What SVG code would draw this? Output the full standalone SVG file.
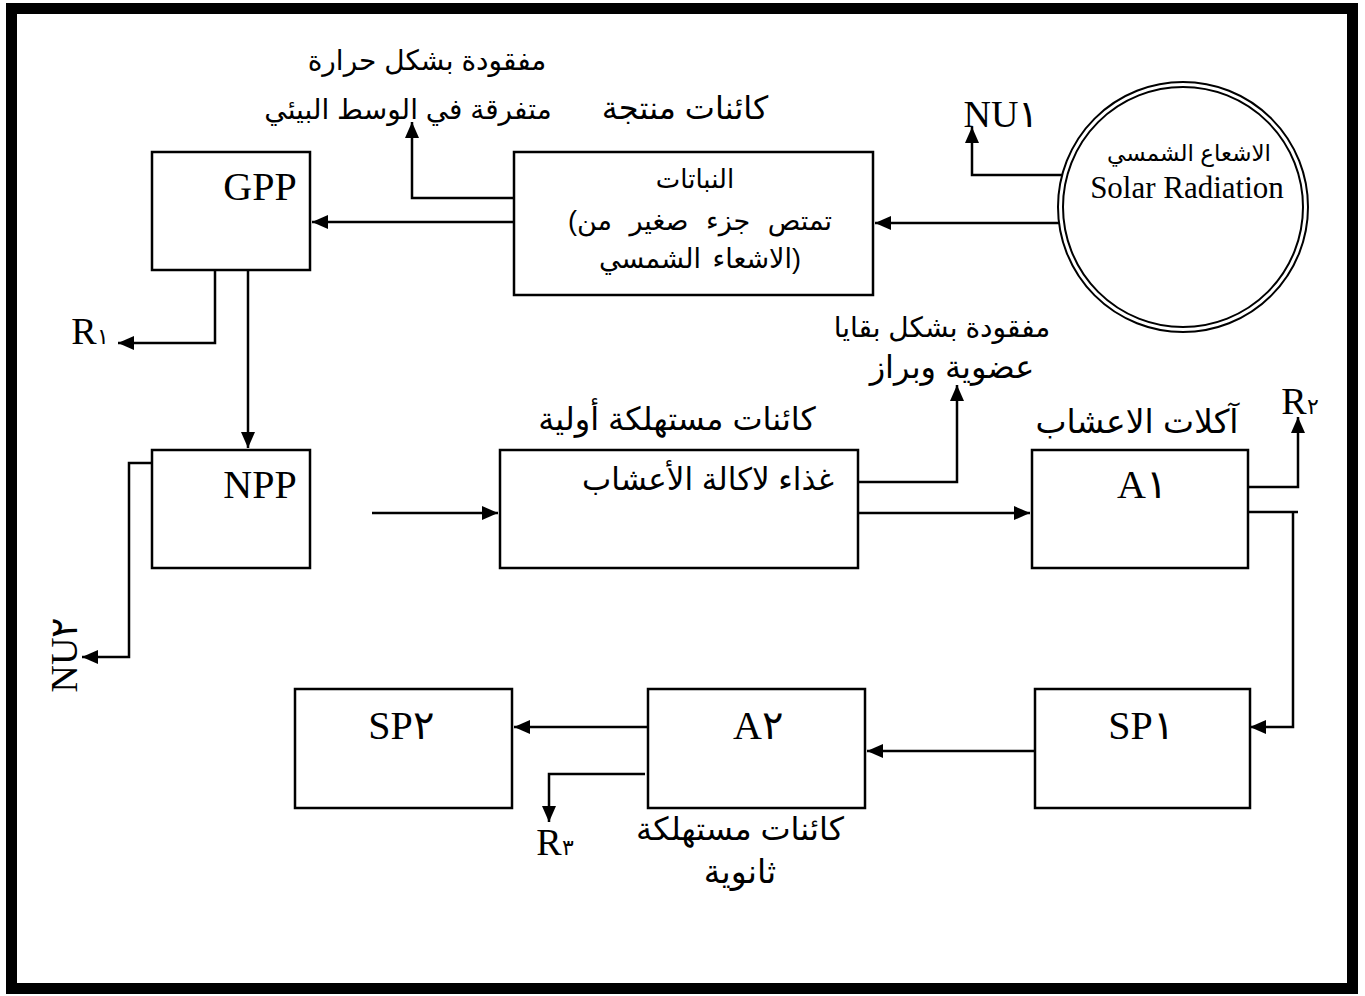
<svg xmlns="http://www.w3.org/2000/svg" width="1365" height="996" viewBox="0 0 1365 996">
<style>
.box{fill:#fff;stroke:#000;stroke-width:2.5}
.ln{fill:none;stroke:#000;stroke-width:2.5}
.ar{font-family:"Liberation Sans","DejaVu Sans",sans-serif;font-size:28px;fill:#000;text-anchor:middle}
.lat{font-family:"Liberation Serif","DejaVu Serif",serif;font-size:40px;fill:#000;text-anchor:middle}
</style>
<defs>
<marker id="ah" markerUnits="userSpaceOnUse" markerWidth="16" markerHeight="14" refX="16" refY="7" orient="auto">
<path d="M0,0 L16,7 L0,14 z" fill="#000"/>
</marker>
</defs>
<rect x="0" y="0" width="1365" height="996" fill="#fff"/>
<rect x="11.5" y="8.5" width="1341" height="980" fill="none" stroke="#000" stroke-width="11"/>

<g id="connectors">
<path class="ln" d="M1062,223 H875" marker-end="url(#ah)"/>
<path class="ln" d="M514,222 H312" marker-end="url(#ah)"/>
<path class="ln" d="M514,198 H412 V122" marker-end="url(#ah)"/>
<path class="ln" d="M1070,175 H972 V127" marker-end="url(#ah)"/>
<path class="ln" d="M215,270 V343 H118" marker-end="url(#ah)"/>
<path class="ln" d="M248,270 V448" marker-end="url(#ah)"/>
<path class="ln" d="M152,463 H129 V657 H82" marker-end="url(#ah)"/>
<path class="ln" d="M372,513 H498" marker-end="url(#ah)"/>
<path class="ln" d="M858,513 H1030" marker-end="url(#ah)"/>
<path class="ln" d="M858,482 H957 V385" marker-end="url(#ah)"/>
<path class="ln" d="M1248,487 H1298 V417" marker-end="url(#ah)"/>
<path class="ln" d="M1248,512 H1298 M1293,512 V727 H1250" marker-end="url(#ah)"/>
<path class="ln" d="M1035,751 H867" marker-end="url(#ah)"/>
<path class="ln" d="M652,727 H514" marker-end="url(#ah)"/>
<path class="ln" d="M645,774 H549 V822" marker-end="url(#ah)"/>
</g>

<g id="solar">
<circle cx="1183" cy="207" r="125" fill="#fff" stroke="#000" stroke-width="2"/>
<circle cx="1183" cy="207" r="120" fill="none" stroke="#000" stroke-width="2"/>
<text class="ar" x="1189" y="161" style="font-size:23px">الاشعاع الشمسي</text>
<text class="lat" x="1187" y="198" style="font-size:31px">Solar Radiation</text>
</g>

<g id="plants">
<rect class="box" x="514" y="152" width="359" height="143"/>
<text class="ar" x="695" y="188" style="font-size:26px">النباتات</text>
<text class="ar" x="700" y="230" style="font-size:27px;word-spacing:10px">(تمتص جزء صغير من</text>
<text class="ar" x="700" y="268" style="font-size:27px;word-spacing:4px">الاشعاء الشمسي)</text>
</g>

<g id="gpp">
<rect class="box" x="152" y="152" width="158" height="118"/>
<text class="lat" x="260" y="200">GPP</text>
</g>

<g id="npp">
<rect class="box" x="152" y="450" width="158" height="118"/>
<text class="lat" x="260" y="498">NPP</text>
</g>

<g id="food">
<rect class="box" x="500" y="450" width="358" height="118"/>
<text class="ar" x="708" y="490" style="font-size:31px">غذاء لاكالة الأعشاب</text>
</g>

<g id="a1">
<rect class="box" x="1032" y="450" width="216" height="118"/>
<text class="lat" x="1142" y="498">A١</text>
</g>

<g id="sp1">
<rect class="box" x="1035" y="689" width="215" height="119"/>
<text class="lat" x="1141" y="739">SP١</text>
</g>

<g id="a2">
<rect class="box" x="648" y="689" width="217" height="119"/>
<text class="lat" x="758" y="739">A٢</text>
</g>

<g id="sp2">
<rect class="box" x="295" y="689" width="217" height="119"/>
<text class="lat" x="401" y="739">SP٢</text>
</g>

<g id="labels">
<text class="ar" x="427" y="70">مفقودة بشكل حرارة</text>
<text class="ar" x="408" y="119">متفرقة في الوسط البيئي</text>
<text class="ar" x="685" y="119" style="font-size:32px">كائنات منتجة</text>
<text class="lat" x="1001" y="127" style="font-size:38px">NU١</text>
<text class="lat" x="90" y="344" style="font-size:38px">R<tspan style="font-size:22px">١</tspan></text>
<text class="lat" transform="translate(77,655) rotate(-90)" style="font-size:38px">NU٢</text>
<text class="ar" x="942" y="337">مفقودة بشكل بقايا</text>
<text class="ar" x="952" y="378" style="font-size:32px">عضوية وبراز</text>
<text class="ar" x="677" y="430" style="font-size:32px">كائنات مستهلكة أولية</text>
<text class="ar" x="1137" y="433" style="font-size:33px">آكلات الاعشاب</text>
<text class="lat" x="1300" y="414" style="font-size:38px">R<tspan style="font-size:22px">٢</tspan></text>
<text class="lat" x="555" y="855" style="font-size:38px">R<tspan style="font-size:22px">٣</tspan></text>
<text class="ar" x="740" y="840" style="font-size:32px">كائنات مستهلكة</text>
<text class="ar" x="740" y="883" style="font-size:33px">ثانوية</text>
</g>
</svg>
